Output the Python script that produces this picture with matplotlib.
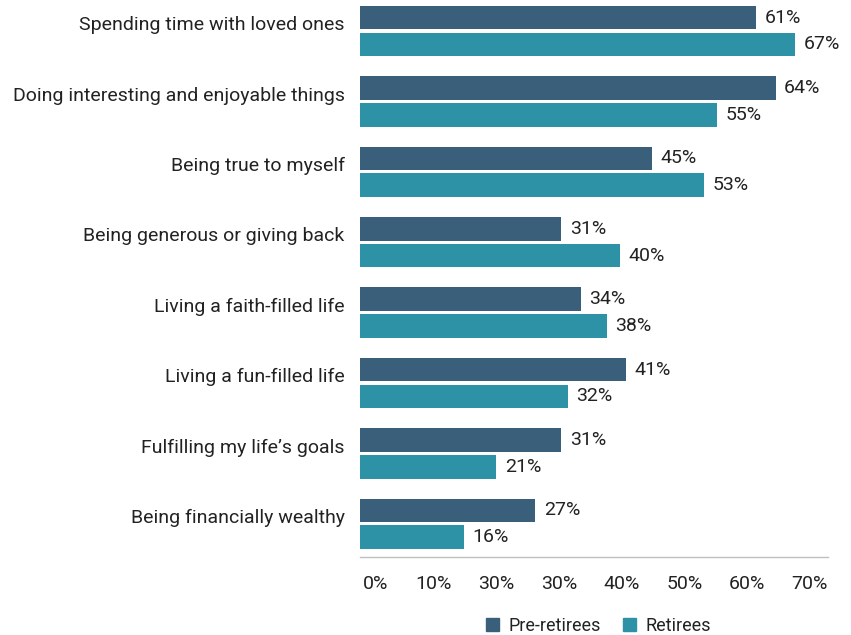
import matplotlib

matplotlib.use("Agg")
import matplotlib.pyplot as plt
import numpy as np
from matplotlib.patches import Patch

categories = [
    "Spending time with loved ones",
    "Doing interesting and enjoyable things",
    "Being true to myself",
    "Being generous or giving back",
    "Living a faith-filled life",
    "Living a fun-filled life",
    "Fulfilling my life\u2019s goals",
    "Being financially wealthy",
]
pre_retirees = [61, 64, 45, 31, 34, 41, 31, 27]
retirees = [67, 55, 53, 40, 38, 32, 21, 16]
# tick labels as printed in the source (note the repeated 30%)
tick_labels = ["0%", "10%", "30%", "30%", "40%", "50%", "60%", "70%"]

PRE_COLOR = "#395F7B"
RET_COLOR = "#2D92A5"
TEXT = "#222222"
FS = 14

plt.rcParams["font.family"] = ["Roboto", "DejaVu Sans"]

fig = plt.figure(figsize=(8.51, 6.35), dpi=100)
ax = fig.add_axes([0.423, 0.123, 0.550, 0.877])

y = np.arange(len(categories))
h = 0.335
off = 0.19
bars_pre = ax.barh(y - off, pre_retirees, height=h, color=PRE_COLOR)
bars_ret = ax.barh(y + off, retirees, height=h, color=RET_COLOR)

for bars, vals in ((bars_pre, pre_retirees), (bars_ret, retirees)):
    for b, v in zip(bars, vals):
        ax.annotate(f"{v}%", (b.get_width(), b.get_y() + b.get_height() / 2),
                    xytext=(6, 0), textcoords="offset points",
                    va="center", ha="left", fontsize=FS, color=TEXT)

ax.set_xlim(0, 71.3)
ax.set_ylim(7.47, -0.44)
# category labels sit a little above the middle of each pair
ax.set_yticks(y - 0.11)
ax.set_yticklabels(categories, fontsize=FS, color=TEXT)

# labels sit right-aligned on an even grid, slightly offset from the data scale
tick_pos = 4.4 + 9.66 * np.arange(len(tick_labels))
ax.set_xticks(tick_pos)
ax.set_xticklabels(tick_labels, fontsize=FS, color=TEXT, ha="right")

ax.tick_params(axis="both", length=0)
ax.tick_params(axis="x", pad=13)
ax.tick_params(axis="y", pad=11)
for side in ("top", "right", "left"):
    ax.spines[side].set_visible(False)
ax.spines["bottom"].set_color("#BFBFBF")
ax.spines["bottom"].set_linewidth(1.0)

handles = [Patch(color=PRE_COLOR, label="Pre-retirees"),
           Patch(color=RET_COLOR, label="Retirees")]
fig.legend(handles=handles, loc="center", bbox_to_anchor=(0.703, 0.014),
           ncol=2, frameon=False, fontsize=13, handlelength=0.75,
           handleheight=0.75, handletextpad=0.5, columnspacing=1.2,
           labelcolor=TEXT)

fig.savefig("out.png", dpi=100)
